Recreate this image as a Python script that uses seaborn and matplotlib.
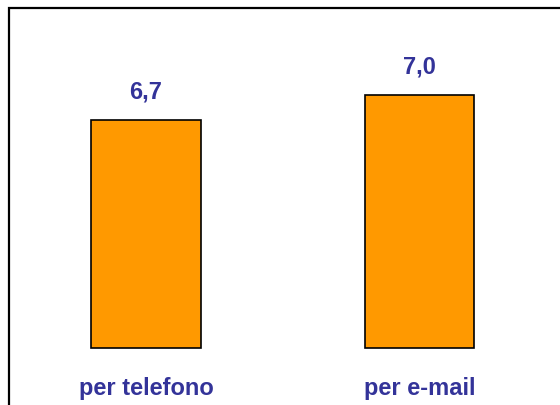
import matplotlib
matplotlib.use('Agg')
import matplotlib.pyplot as plt
from matplotlib.patches import Rectangle
import pandas as pd
import seaborn as sns

categories = ['per telefono', 'per e-mail']
values = [6.7, 7.0]
value_labels = ['6,7', '7,0']
axis_min = 4.0

W, H = 560, 405
sns.set_style('white')
plt.rcParams['font.family'] = ['Liberation Sans', 'DejaVu Sans']

fig = plt.figure(figsize=(W / 100, H / 100), dpi=100)
# axes placed in pixel coords: x 10..560, y 8..348
ax = fig.add_axes([10 / W, (H - 349) / H, 550 / W, 341 / H])

df = pd.DataFrame({'canale': categories, 'valore': values})
sns.barplot(data=df, x='canale', y='valore', ax=ax, color='#FF9900',
            saturation=1, width=0.40, edgecolor='black', linewidth=1.2)

# bars start at the axis minimum so their bottom edge is visible
for p in ax.patches:
    top = p.get_y() + p.get_height()
    p.set_y(axis_min)
    p.set_height(top - axis_min)

ax.set_xlim(-0.497, 1.514)
ax.set_ylim(axis_min - 0.012, 8.03)
for s in ax.spines.values():
    s.set_visible(False)
ax.set_yticks([])
ax.set_xlabel('')
ax.set_ylabel('')
ax.tick_params(axis='x', length=0, pad=20)
for lbl in ax.get_xticklabels():
    lbl.set_fontsize(17)
    lbl.set_fontweight('bold')
    lbl.set_color('#333399')

for i, (v, t) in enumerate(zip(values, value_labels)):
    ax.annotate(t, (i, v), xytext=(0, 20), textcoords='offset points',
                ha='center', va='center', fontsize=17, fontweight='bold',
                color='#333399')

fig.add_artist(Rectangle((8.5 / W, -0.1), 1.0, 1.1 - 8 / H,
                         transform=fig.transFigure, fill=False,
                         edgecolor='black', linewidth=1.6))

fig.savefig('out.png', dpi=100)
